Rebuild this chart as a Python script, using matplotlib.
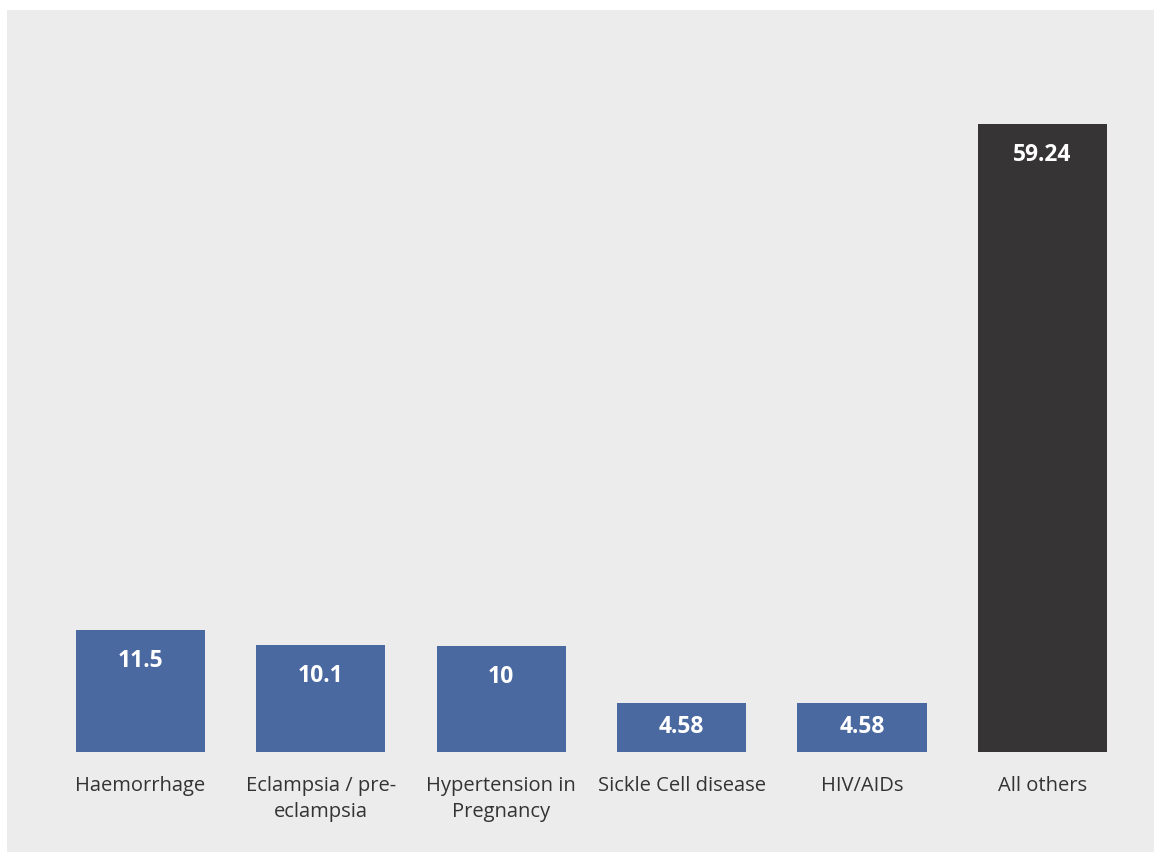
import matplotlib

matplotlib.use("Agg")
import matplotlib.pyplot as plt  # noqa: E402
from matplotlib.patches import Rectangle  # noqa: E402

categories = [
    "Haemorrhage",
    "Eclampsia / pre-\neclampsia",
    "Hypertension in\nPregnancy",
    "Sickle Cell disease",
    "HIV/AIDs",
    "All others",
]
values = [11.5, 10.1, 10, 4.58, 4.58, 59.24]
value_labels = ["11.5", "10.1", "10", "4.58", "4.58", "59.24"]
colors = ["#4A69A0"] * 5 + ["#363435"]

BG = "#EBECEB"
TEXT = "#333333"

W, H = 1154, 852
fig = plt.figure(figsize=(W / 100, H / 100), dpi=100)
fig.patch.set_facecolor("white")

# grey panel behind the chart
fig.patches.append(
    Rectangle((7 / W, 0), 1 - 7 / W, 1 - 10 / H, transform=fig.transFigure,
              facecolor=BG, edgecolor="none", zorder=-10)
)

# axes placed in pixels: x from 50 to 1132, baseline at 752
left, right = 50.3, 1132.5
bottom, top = 752, 63
ax = fig.add_axes([left / W, 1 - bottom / H, (right - left) / W, (bottom - top) / H])
ax.set_facecolor("none")

x = list(range(len(categories)))
ax.bar(x, values, width=0.716, color=colors, zorder=2)
ax.set_xlim(-0.5, len(categories) - 0.5)
ax.set_ylim(0, 65)

# labels sit just inside the bar top; short bars get them pulled toward the middle
px_per_unit = (bottom - top) / 65
for xi, v, lab in zip(x, values, value_labels):
    off = min(31, v * px_per_unit * 0.48)
    ax.annotate(lab, (xi, v), xytext=(0, -off), textcoords="offset pixels",
                ha="center", va="center", color="white", fontsize=16.5,
                fontweight="bold", family="Open Sans")

ax.set_xticks(x)
ax.set_xticklabels(categories, fontsize=14.5, color=TEXT, family="Open Sans",
                   linespacing=1.45, va="top")
ax.tick_params(axis="x", length=0, pad=17)
ax.set_yticks([])
for s in ax.spines.values():
    s.set_visible(False)

fig.savefig("out.png", dpi=100)
